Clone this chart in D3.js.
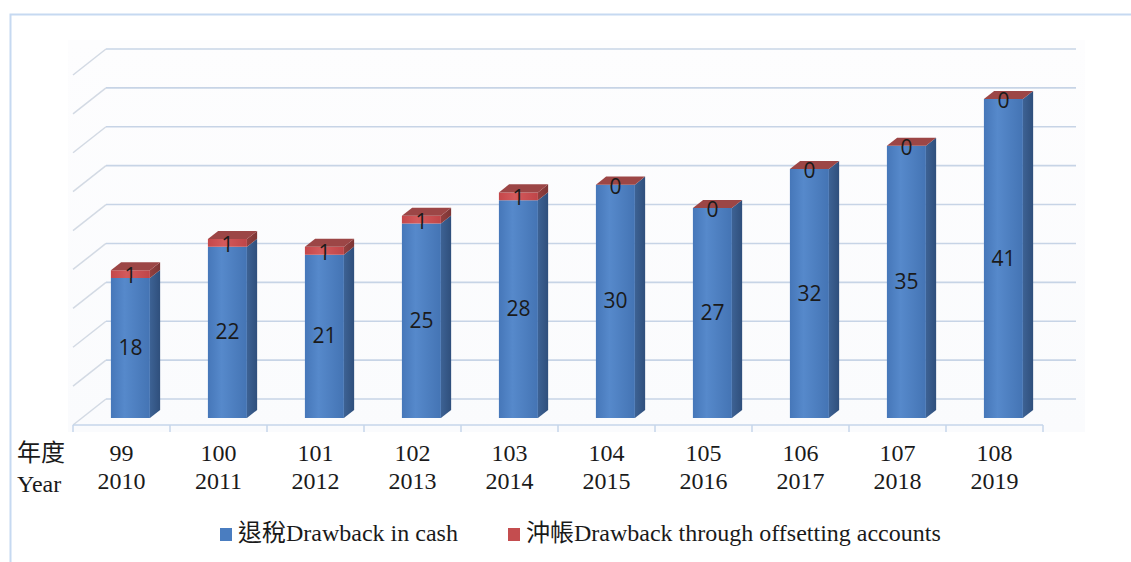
<!DOCTYPE html>
<html>
<head>
<meta charset="utf-8">
<script src="https://cdn.jsdelivr.net/npm/d3@7"></script>
<style>
  html, body { margin: 0; padding: 0; background: #ffffff; }
  svg { display: block; }
</style>
</head>
<body>
<svg id="chart" width="1131" height="562"></svg>
<script>
// Customs drawback by fiscal year (ROC year / Gregorian year)
const rocYears = ['99', '100', '101', '102', '103', '104', '105', '106', '107', '108'];
const adYears = ['2010', '2011', '2012', '2013', '2014', '2015', '2016', '2017', '2018', '2019'];
const cashValues = [18, 22, 21, 25, 28, 30, 27, 32, 35, 41];
const offsetValues = [1, 1, 1, 1, 1, 0, 0, 0, 0, 0];
const gridTicks = [0, 5, 10, 15, 20, 25, 30, 35, 40, 45];
const seriesNames = ['退稅Drawback in cash', '沖帳Drawback through offsetting accounts'];

const svg = d3.select('#chart');

// Oblique 3D frame: floor front edge, depth vector, bar depth slice
const floorFront = 425;
const depth = { x: 33, y: -26 };
const barZ = [0.27, 0.58];

const x = d3.scaleBand().domain(rocYears).range([73, 1043]).paddingInner(0).paddingOuter(0);
const h = d3.scaleLinear().domain([0, 45]).range([0, 350]);
const barWidth = 39;

// projected point: band-x, value, depth fraction
function P(px, v, z) {
  return [px + depth.x * z, floorFront + depth.y * z - h(v)];
}

const defs = svg.append('defs');
function hGrad(id, stops) {
  const g = defs.append('linearGradient').attr('id', id).attr('x1', 0).attr('x2', 1).attr('y1', 0).attr('y2', 0);
  stops.forEach(s => g.append('stop').attr('offset', s[0]).attr('stop-color', s[1]));
}
hGrad('blueFront', [[0, '#4677b9'], [0.35, '#5689cb'], [1, '#4474b4']]);
hGrad('blueSide', [[0, '#3d6294'], [1, '#2f4f7c']]);
hGrad('redFront', [[0, '#c4474a'], [0.4, '#d45a5c'], [1, '#bf4548']]);
hGrad('redSide', [[0, '#93403f'], [1, '#7c3535']]);
const bg = defs.append('linearGradient').attr('id', 'wall').attr('x1', 0).attr('x2', 0).attr('y1', 0).attr('y2', 1);
bg.append('stop').attr('offset', 0).attr('stop-color', '#fdfdfe');
bg.append('stop').attr('offset', 1).attr('stop-color', '#fafbfd');

// outer border
svg.append('rect')
  .attr('x', 10.5).attr('y', 14.5).attr('width', 1130).attr('height', 560)
  .attr('fill', 'none').attr('stroke', '#c6d9f1').attr('stroke-width', 2);

// faint plot area
svg.append('rect')
  .attr('x', 68).attr('y', 40).attr('width', 1017).attr('height', 392)
  .attr('fill', 'url(#wall)');

// gridlines: left side wall diagonal + back wall horizontal
const x0 = x.range()[0], x1 = x.range()[1];
const grid = svg.append('g');
gridTicks.forEach(v => {
  const a = P(x0, v, 0), b = P(x0, v, 1), c = P(x1, v, 1);
  grid.append('path')
    .attr('d', `M${a[0]},${a[1]}L${b[0]},${b[1]}`)
    .attr('stroke', '#d3dae4').attr('stroke-width', 1.5).attr('fill', 'none');
  grid.append('path')
    .attr('d', `M${b[0]},${b[1]}L${c[0]},${c[1]}`)
    .attr('stroke', '#c7d4e6').attr('stroke-width', 1.6).attr('fill', 'none');
});

// floor front edge with category ticks
const fa = P(x0, 0, 0), fb = P(x1, 0, 0);
grid.append('path').attr('d', `M${fa[0]},${fa[1]}L${fb[0]},${fb[1]}`)
  .attr('stroke', '#c6d6ea').attr('stroke-width', 1.5);
const tickXs = rocYears.map(d => x(d)).concat([x1]);
tickXs.forEach(tx => {
  grid.append('line').attr('x1', tx).attr('x2', tx).attr('y1', floorFront).attr('y2', floorFront + 7)
    .attr('stroke', '#c6d6ea').attr('stroke-width', 1.5);
});

// stacked 3D bars
const rows = rocYears.map((d, i) => ({ key: d, cash: cashValues[i], offset: offsetValues[i] }));
const bars = svg.append('g');

function poly(pts) { return 'M' + pts.map(p => p.join(',')).join('L') + 'Z'; }

function drawBlock(g, bx, v0, v1, front, side, top) {
  const bx1 = bx + barWidth;
  const [z0, z1] = barZ;
  if (v1 > v0) {
    g.append('path').attr('d', poly([P(bx1, v0, z0), P(bx1, v0, z1), P(bx1, v1, z1), P(bx1, v1, z0)]))
      .attr('fill', side);
    g.append('path').attr('d', poly([P(bx, v0, z0), P(bx1, v0, z0), P(bx1, v1, z0), P(bx, v1, z0)]))
      .attr('fill', front);
  }
  if (top) {
    g.append('path').attr('d', poly([P(bx, v1, z0), P(bx1, v1, z0), P(bx1, v1, z1), P(bx, v1, z1)]))
      .attr('fill', top);
  }
}

rows.forEach(r => {
  const bx = x(r.key) + (x.bandwidth() - barWidth) / 2;
  const g = bars.append('g');
  drawBlock(g, bx, 0, r.cash, 'url(#blueFront)', 'url(#blueSide)', null);
  drawBlock(g, bx, r.cash, r.cash + r.offset, 'url(#redFront)', 'url(#redSide)', '#9c4646');
});

// data labels on the front faces
const labels = svg.append('g')
  .attr('font-family', '"Open Sans", "DejaVu Sans", sans-serif')
  .attr('font-size', 21).attr('fill', '#1a1a1a').attr('text-anchor', 'middle');
rows.forEach(r => {
  const cx = x(r.key) + x.bandwidth() / 2 + depth.x * barZ[0];
  const base = floorFront + depth.y * barZ[0];
  labels.append('text').attr('x', cx).attr('y', base - h(r.cash / 2) + 7).text(r.cash);
  labels.append('text').attr('x', cx).attr('y', base - h(r.cash + r.offset / 2) + 9).text(r.offset);
});

// category axis labels
const serif = '"Liberation Serif", "Times New Roman", "Noto Sans CJK TC", serif';
const axisG = svg.append('g').attr('font-family', serif).attr('font-size', 24).attr('fill', '#1a1a1a')
  .attr('text-anchor', 'middle');
rows.forEach((r, i) => {
  const cx = x(r.key) + x.bandwidth() / 2;
  axisG.append('text').attr('x', cx).attr('y', 461).text(rocYears[i]);
  axisG.append('text').attr('x', cx).attr('y', 489).text(adYears[i]);
});
svg.append('text').attr('x', 17).attr('y', 461).attr('font-family', '"Noto Sans CJK TC", sans-serif')
  .attr('font-size', 24).attr('fill', '#1a1a1a').text('年度');
svg.append('text').attr('x', 17).attr('y', 492).attr('font-family', serif)
  .attr('font-size', 24).attr('fill', '#1a1a1a').text('Year');

// legend
const legend = svg.append('g').attr('font-family', serif).attr('font-size', 24).attr('fill', '#1a1a1a');
const legendItems = [
  { name: seriesNames[0], color: '#4a7dc0', sx: 220, tx: 238 },
  { name: seriesNames[1], color: '#c44d4f', sx: 508, tx: 526 }
];
legendItems.forEach(it => {
  legend.append('rect').attr('x', it.sx).attr('y', 528).attr('width', 12).attr('height', 13).attr('fill', it.color);
  legend.append('text').attr('x', it.tx).attr('y', 541).text(it.name);
});
</script>
</body>
</html>
